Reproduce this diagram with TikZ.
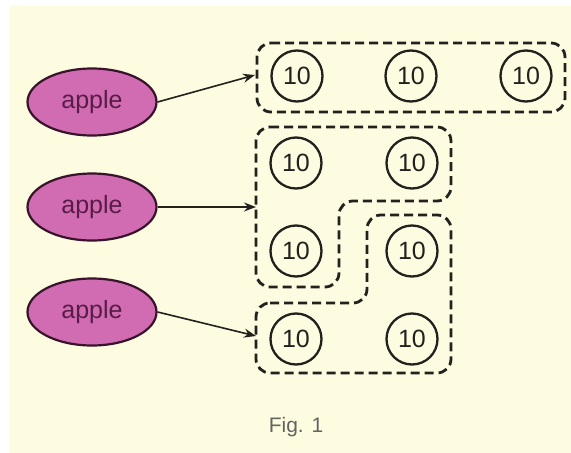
\documentclass[tikz,border=0pt]{standalone}
\usepackage{fontspec}
\setmainfont{Liberation Sans}
\usetikzlibrary{shapes.geometric,arrows.meta}
\definecolor{cream}{RGB}{253,251,224}
\definecolor{applefill}{RGB}{210,108,178}
\definecolor{appleline}{RGB}{55,20,44}
\definecolor{appletext}{RGB}{88,28,70}
\definecolor{ink}{RGB}{35,33,30}
\definecolor{figgray}{RGB}{100,100,96}
\tikzset{
  apple/.style={ellipse, draw=appleline, fill=applefill, line width=2.2pt,
    minimum width=129pt, minimum height=67pt, inner sep=0pt,
    text=appletext, font=\fontsize{25}{25}\selectfont},
  ten/.style={circle, draw=ink, line width=2.3pt, minimum size=51pt, inner sep=0pt,
    text=ink, font=\fontsize{25}{25}\selectfont},
  group/.style={draw=ink, line width=2.8pt, dash pattern=on 9pt off 5pt, rounded corners=14pt},
  conn/.style={draw=ink, line width=1.6pt, -{Stealth[length=12pt,width=9pt,inset=4pt]}}
}
\begin{document}
\begin{tikzpicture}[x=1pt,y=-1pt]
\useasboundingbox (0,0) rectangle (571,453);
\fill[white] (0,0) rectangle (571,453);
\fill[cream] (10,6) rectangle (571,453);
% apples
\node[apple] (a1) at (92,102) {apple};
\node[apple] (a2) at (92,207) {apple};
\node[apple] (a3) at (92,312) {apple};
% tens
\node[ten] (c11) at (297,76) {10};
\node[ten] (c12) at (411,76) {10};
\node[ten] (c13) at (526,76) {10};
\node[ten] (c21) at (296,163) {10};
\node[ten] (c22) at (412,163) {10};
\node[ten] (c31) at (296,251) {10};
\node[ten] (c32) at (412,251) {10};
\node[ten] (c41) at (296,339) {10};
\node[ten] (c42) at (412,339) {10};
% groups
\draw[group] (257,43) -- (565,43) -- (565,112) -- (257,112) -- cycle;
\draw[group] (256,127) -- (451,127) -- (451,201) -- (339,201) -- (339,287) -- (256,287) -- cycle;
\draw[group] (256,303) -- (367,303) -- (367,215) -- (451,215) -- (451,373) -- (256,373) -- cycle;
% arrow targets
\coordinate (t1) at (255,75);
\coordinate (t2) at (256,207);
\coordinate (t3) at (256,336);
\draw[conn] (a1.east) -- (t1);
\draw[conn] (a2.east) -- (t2);
\draw[conn] (a3.east) -- (t3);
% caption
\node[text=figgray, font=\fontsize{21}{21}\selectfont] (fig) at (296,427) {Fig. 1};
\end{tikzpicture}
\end{document}
